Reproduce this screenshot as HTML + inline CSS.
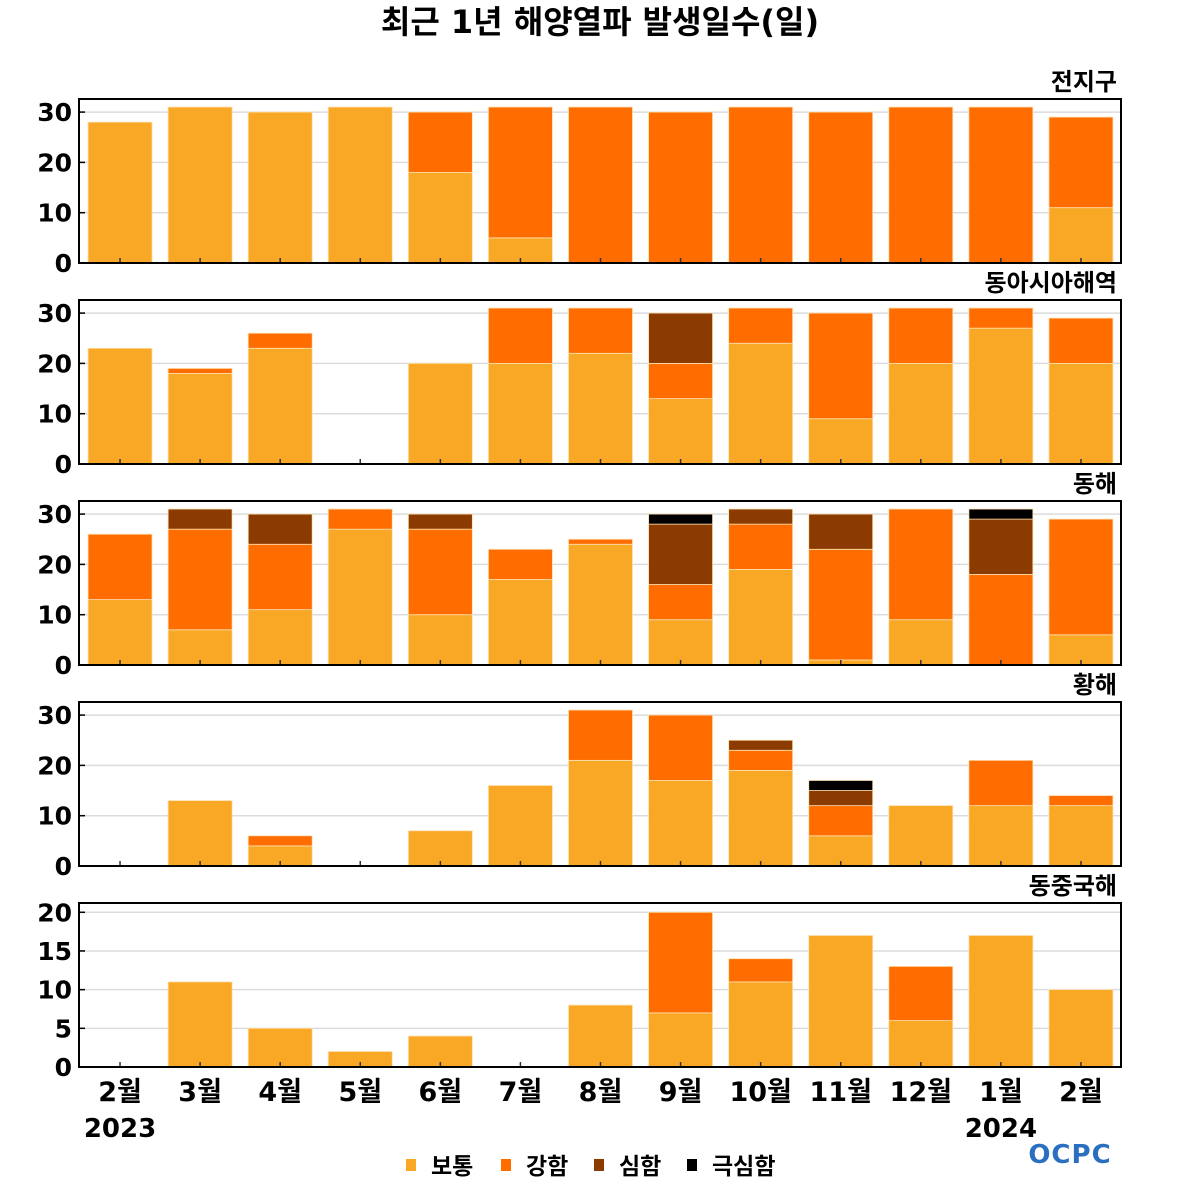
<!DOCTYPE html>
<html><head><meta charset="utf-8">
<style>
html,body{margin:0;padding:0;background:#fff;}
svg{display:block;}
text{font-family:"DejaVu Sans","Liberation Sans","Noto Sans CJK KR",sans-serif;font-weight:bold;}
</style></head>
<body>
<svg id="chart" width="1200" height="1200" viewBox="0 0 1200 1200" xmlns="http://www.w3.org/2000/svg">
<text x="600" y="33" text-anchor="middle" font-size="32" fill="#000">최근 1년 해양열파 발생일수(일)</text>
<g id="panels"></g>
<g id="xaxis"></g>
<g>
<rect x="406" y="1159" width="10" height="12" fill="#F9A825"/>
<text x="431" y="1174" font-size="23">보통</text>
<rect x="501" y="1159" width="10" height="12" fill="#FF6D00"/>
<text x="526" y="1174" font-size="23">강함</text>
<rect x="594" y="1159" width="10" height="12" fill="#8B3A00"/>
<text x="619" y="1174" font-size="23">심함</text>
<rect x="687" y="1159" width="10" height="12" fill="#000"/>
<text x="712" y="1174" font-size="23">극심함</text>
</g>
<text x="1070" y="1163" text-anchor="middle" font-size="26" fill="#2a6fc0" letter-spacing="1">OCPC</text>
</svg>
<script>
const categories = ['2월','3월','4월','5월','6월','7월','8월','9월','10월','11월','12월','1월','2월'];
const panelTitles = ['전지구','동아시아해역','동해','황해','동중국해'];
const panelMax = [32.6,32.6,32.6,32.6,21.2];
const panelTicks = [[0,10,20,30],[0,10,20,30],[0,10,20,30],[0,10,20,30],[0,5,10,15,20]];
const normalVals = [
 [28,31,30,31,18,5,0,0,0,0,0,0,11],
 [23,18,23,0,20,20,22,13,24,9,20,27,20],
 [13,7,11,27,10,17,24,9,19,1,9,0,6],
 [0,13,4,0,7,16,21,17,19,6,12,12,12],
 [0,11,5,2,4,0,8,7,11,17,6,17,10]];
const strongVals = [
 [0,0,0,0,12,26,31,30,31,30,31,31,18],
 [0,1,3,0,0,11,9,7,7,21,11,4,9],
 [13,20,13,4,17,6,1,7,9,22,22,18,23],
 [0,0,2,0,0,0,10,13,4,6,0,9,2],
 [0,0,0,0,0,0,0,13,3,0,7,0,0]];
const severeVals = [
 [0,0,0,0,0,0,0,0,0,0,0,0,0],
 [0,0,0,0,0,0,0,10,0,0,0,0,0],
 [0,4,6,0,3,0,0,12,3,7,0,11,0],
 [0,0,0,0,0,0,0,0,2,3,0,0,0],
 [0,0,0,0,0,0,0,0,0,0,0,0,0]];
const extremeVals = [
 [0,0,0,0,0,0,0,0,0,0,0,0,0],
 [0,0,0,0,0,0,0,0,0,0,0,0,0],
 [0,0,0,0,0,0,0,2,0,0,0,2,0],
 [0,0,0,0,0,0,0,0,0,2,0,0,0],
 [0,0,0,0,0,0,0,0,0,0,0,0,0]];
const colors = ['#F9A825','#FF6D00','#8B3A00','#000000'];
const NS='http://www.w3.org/2000/svg';
const X0=79,X1=1121,panelTop=[99,300,501,702,903],PH=164;
const step=(X1-X0-1)/categories.length;
function xC(i){return X0+1+step*(i+0.5);}
function mk(tag,attrs,parent){const e=document.createElementNS(NS,tag);for(const k in attrs)e.setAttribute(k,attrs[k]);parent.appendChild(e);return e;}
const pg=document.getElementById('panels');
panelTitles.forEach((t,p)=>{
  const top=panelTop[p],bot=top+PH;
  const y=v=>bot-(v/panelMax[p])*PH;
  const g=mk('g',{},pg);
  
  
  const tt=mk('text',{x:1117,y:top-9,'text-anchor':'end','font-size':24},g);
  tt.textContent=t;
  
  
  panelTicks[p].forEach(v=>{
    if(v>0){const gl=mk('line',{x1:X0,x2:X1,y1:y(v),y2:y(v),stroke:'#dcdcdc','stroke-width':1.5},g);
      
      }
    const tl=mk('text',{x:72,y:y(v)+9,'text-anchor':'end','font-size':25},g);
    tl.textContent=v;
    
    
    mk('line',{x1:X0,x2:X0+6,y1:y(v),y2:y(v),stroke:'#000','stroke-width':1.5},g);
  });
  const series=[normalVals[p],strongVals[p],severeVals[p],extremeVals[p]];
  categories.forEach((c,i)=>{
    let acc=0;
    series.forEach((s,k)=>{
      const v=s[i]; if(!v) return;
      const r=mk('rect',{x:xC(i)-32,y:y(acc+v),width:64,height:y(acc)-y(acc+v),fill:colors[k],stroke:'#ffe0b0','stroke-width':0.8},g);
      
      
      acc+=v;
    });
    mk('line',{x1:xC(i),x2:xC(i),y1:bot,y2:bot-5,stroke:'#333','stroke-width':1.5},g);
  });
  const fr=mk('rect',{x:X0,y:top,width:X1-X0,height:PH,fill:'none',stroke:'#000','stroke-width':2},g);
  
  
});
const xg=document.getElementById('xaxis');
categories.forEach((c,i)=>{
  const t=mk('text',{x:xC(i),y:1101,'text-anchor':'middle','font-size':27},xg);
  t.textContent=c;
  
  
});
[['2023',0],['2024',11]].forEach(([yr,i])=>{
  const t=mk('text',{x:xC(i),y:1137,'text-anchor':'middle','font-size':26},xg);
  t.textContent=yr;
  
  
});
</script>
</body></html>
